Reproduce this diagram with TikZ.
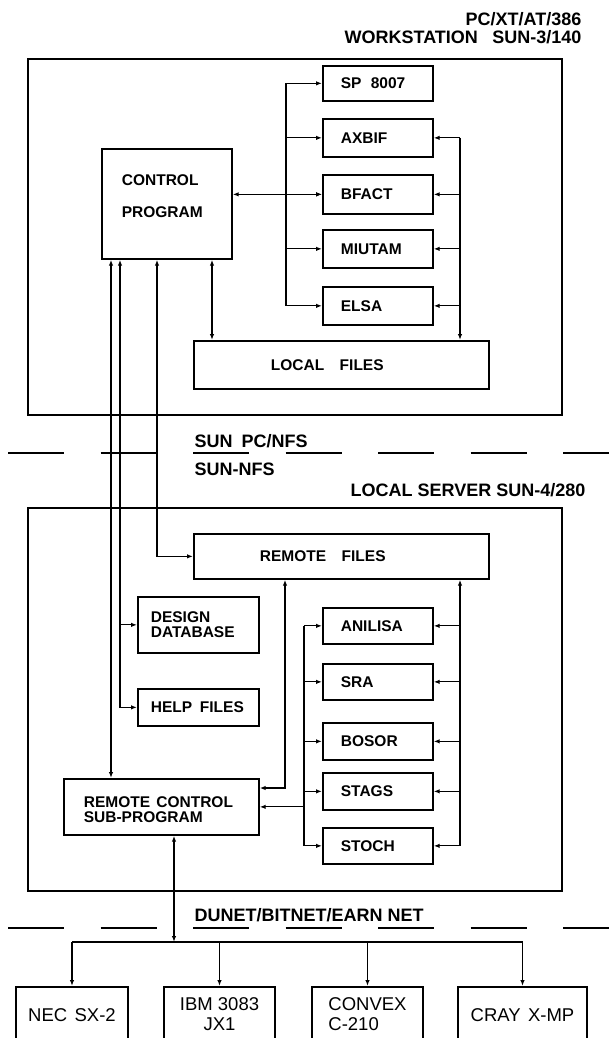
\documentclass[tikz,border=0pt]{standalone}
\usepackage{fontspec}
\setmainfont{Liberation Sans}
\usetikzlibrary{arrows.meta}
\begin{document}
\begin{tikzpicture}[x=1pt,y=-1pt,
  line width=1.2pt,
  box/.style={draw, line width=1.7pt, rectangle, anchor=north west, inner ysep=0pt, align=left, font=\fontsize{15.5}{15}\selectfont\bfseries},
  tool/.style={box, text width=74pt, inner xsep=18pt},
  frame/.style={draw, line width=1.7pt, rectangle, anchor=north west, inner sep=0pt},
  lbl/.style={font=\fontsize{18}{18}\selectfont\bfseries, inner sep=0pt},
  comp/.style={draw, line width=1.7pt, rectangle, anchor=north, inner sep=0pt, align=center, font=\fontsize{18.5}{20}\selectfont},
  arr/.style={-{Latex[length=6pt,width=4.5pt]}},
  darr/.style={{Latex[length=6pt,width=4.5pt]}-{Latex[length=6pt,width=4.5pt]}},
  net/.style={line width=1.4pt, dash pattern=on 56pt off 36.5pt}
]
\useasboundingbox (0,0) rectangle (609,1038);
\fill[white] (0,0) rectangle (609,1038);
\begin{scope}
\clip (0,0) rectangle (609,1038);

% labels
\node[lbl, anchor=base east] (t1) at (582,26) {PC/XT/AT/386};
\node[lbl, anchor=base east] (t2) at (582,44) {WORKSTATION\hspace{0.8em}SUN-3/140};
\node[lbl, anchor=base west] (t3) at (194,447.5) {SUN\hspace{0.5em}PC/NFS};
\node[lbl, anchor=base west] (t4) at (194,475) {SUN-NFS};
\node[lbl, anchor=base east] (t5) at (586,496) {LOCAL SERVER SUN-4/280};
\node[lbl, anchor=base west] (t6) at (194,921.5) {DUNET/BITNET/EARN NET};

% frames
\node[frame, minimum width=534pt, minimum height=356pt] (ws) at (27,58) {};
\node[frame, minimum width=534pt, minimum height=383pt] (srv) at (27,507) {};

% workstation
\node[tool, minimum height=35pt] (sp) at (322,65) {SP\hspace{0.6em}8007};
\node[tool, minimum height=38pt] (axbif) at (322,118) {AXBIF};
\node[tool, minimum height=39pt] (bfact) at (322,174) {BFACT};
\node[tool, minimum height=38pt] (miutam) at (322,229) {MIUTAM};
\node[tool, minimum height=38pt] (elsa) at (322,286) {ELSA};
\node[box, text width=90pt, inner xsep=20pt, minimum height=110pt, text height=11pt, text depth=48pt] (ctrl) at (101,148) {CONTROL\\[17pt]PROGRAM};
\node[box, text width=141pt, inner xsep=77pt, minimum height=48pt] (local) at (193,340) {LOCAL\hspace{1em}FILES};

% server
\node[box, text width=163pt, inner xsep=66pt, minimum height=45pt] (remote) at (193,533) {REMOTE\hspace{1em}FILES};
\node[box, text width=95pt, inner xsep=13pt, minimum height=56pt] (design) at (137,596) {DESIGN\\DATABASE};
\node[box, text width=95pt, inner xsep=13pt, minimum height=37pt] (help) at (137,688) {HELP\hspace{0.5em}FILES};
\node[tool, minimum height=36pt] (anilisa) at (322,607) {ANILISA};
\node[tool, minimum height=36pt] (sra) at (322,663) {SRA};
\node[tool, minimum height=37pt] (bosor) at (322,722) {BOSOR};
\node[tool, minimum height=37pt] (stags) at (322,772) {STAGS};
\node[tool, minimum height=36pt] (stoch) at (322,827) {STOCH};
\node[box, text width=155pt, inner xsep=20pt, minimum height=56pt, text height=11pt, text depth=10pt] (rc) at (63,778) {REMOTE\hspace{0.4em}CONTROL\\SUB-PROGRAM};

% computers
\node[comp, minimum width=112pt, minimum height=56pt] (nec) at (72,986) {NEC\hspace{0.4em}SX-2};
\node[comp, minimum width=111pt, minimum height=54pt] (ibm) at (219.5,986) {IBM 3083\\JX1};
\node[comp, minimum width=111pt, minimum height=54pt, align=left] (convex) at (367.5,986) {CONVEX\\C-210};
\node[comp, minimum width=129pt, minimum height=56pt] (cray) at (522.5,986) {CRAY\hspace{0.4em}X-MP};

% coordinates
\coordinate (lb) at (286,0);
\coordinate (rb) at (460,0);
\coordinate (tb) at (304,0);
\coordinate (c1) at (111,0);
\coordinate (c2) at (120,0);
\coordinate (c3) at (157,0);
\coordinate (c4) at (212,0);
\coordinate (m1) at (285,788);
\coordinate (n1) at (174,942);
\coordinate (da) at (8,453);
\coordinate (db) at (609,453);
\coordinate (dc) at (8,928);
\coordinate (dd) at (609,928);

% workstation connectors
\draw (sp.west -| lb) -- (elsa.west -| lb);
\foreach \n in {sp,axbif,bfact,miutam,elsa} \draw[arr] (\n.west -| lb) -- (\n.west);
\draw[arr] (axbif.east -| rb) -- (local.north -| rb);
\foreach \n in {axbif,bfact,miutam,elsa} \draw[arr] (\n.east -| rb) -- (\n.east);
\draw[darr] (bfact.west -| ctrl.east) -- (bfact.west);
\draw[darr] (ctrl.south -| c4) -- (local.north -| c4);

% control to server
\draw[darr] (ctrl.south -| c1) -- (rc.north -| c1);
\draw[darr] (ctrl.south -| c2) -- (help.west -| c2) -- (help.west);
\draw[arr] (design.west -| c2) -- (design.west);
\draw[darr] (ctrl.south -| c3) -- (remote.west -| c3) -- (remote.west);

% server connectors
\draw[darr] (remote.south -| m1) -- (m1) -- (m1 -| rc.east);
\draw (anilisa.west -| tb) -- (stoch.west -| tb);
\foreach \n in {anilisa,sra,bosor,stags,stoch} \draw[arr] (\n.west -| tb) -- (\n.west);
\draw[arr] (rc.east -| tb) -- (rc.east);
\draw[arr] (stoch.east -| rb) -- (remote.south -| rb);
\foreach \n in {anilisa,sra,bosor,stags,stoch} \draw[arr] (\n.east -| rb) -- (\n.east);

% network
\draw[darr] (rc.south -| n1) -- (n1);
\draw (nec.north |- n1) -- (cray.north |- n1);
\foreach \n in {nec,ibm,convex,cray} \draw[arr] (\n.north |- n1) -- (\n.north);

% dashed network lines
\draw[net] (da) -- (db);
\draw[net] (dc) -- (dd);
\end{scope}
\end{tikzpicture}
\end{document}
